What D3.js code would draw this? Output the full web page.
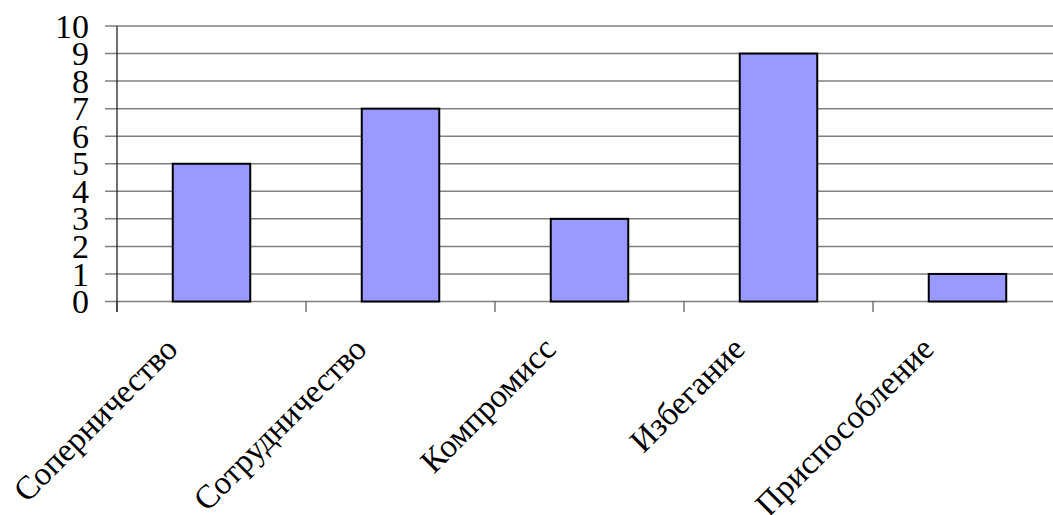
<!DOCTYPE html>
<html>
<head>
<meta charset="utf-8">
<script src="https://cdn.jsdelivr.net/npm/d3@7"></script>
<style>
  html, body { margin: 0; padding: 0; background: #fff; }
  svg { display: block; }
</style>
</head>
<body>
<svg id="chart" width="1053" height="515"></svg>
<script>
// Conflict resolution styles and their counts
const categories = ["Соперничество", "Сотрудничество", "Компромисс", "Избегание", "Приспособление"];
const values = [5, 7, 3, 9, 1];
const yTicks = [0, 1, 2, 3, 4, 5, 6, 7, 8, 9, 10];

const svg = d3.select("#chart");
const plotLeft = 117, plotRight = 1062, plotTop = 26, plotBottom = 301.5;
const serif = '"Liberation Serif", "Times New Roman", serif';

const x = d3.scaleBand().domain(categories).range([plotLeft, plotRight]).paddingInner(0.59).paddingOuter(0.295);
const xBand = d3.scaleBand().domain(categories).range([plotLeft, plotRight]);
const y = d3.scaleLinear().domain([0, 10]).range([plotBottom, plotTop]);

// horizontal grid lines with left tick stubs
svg.append("g").selectAll("line").data(yTicks).join("line")
  .attr("x1", 105).attr("x2", 1053)
  .attr("y1", d => y(d)).attr("y2", d => y(d))
  .attr("stroke", "#808080").attr("stroke-width", 1.5);

// y tick labels
svg.append("g").selectAll("text").data(yTicks).join("text")
  .attr("x", 89).attr("y", d => y(d))
  .attr("dy", "0.34em")
  .attr("text-anchor", "end")
  .style("font-family", serif)
  .style("font-size", "34px")
  .attr("fill", "#000")
  .text(d => d);

// category tick marks below the baseline
const bounds = categories.map(c => xBand(c)).concat([plotRight]);
svg.append("g").selectAll("line").data(bounds).join("line")
  .attr("x1", d => d).attr("x2", d => d)
  .attr("y1", plotBottom).attr("y2", 312)
  .attr("stroke", "#555").attr("stroke-width", 1.2);

// vertical axis line
svg.append("line")
  .attr("x1", plotLeft).attr("x2", plotLeft)
  .attr("y1", plotTop).attr("y2", 312)
  .attr("stroke", "#222").attr("stroke-width", 1.3);

// bars
svg.append("g").selectAll("rect").data(values).join("rect")
  .attr("x", (d, i) => x(categories[i]))
  .attr("width", x.bandwidth())
  .attr("y", d => y(d))
  .attr("height", d => y(0) - y(d))
  .attr("fill", "#9999ff")
  .attr("stroke", "#000").attr("stroke-width", 2);

// rotated category labels
svg.append("g").selectAll("text").data(categories).join("text")
  .attr("transform", c => `translate(${xBand(c) + xBand.bandwidth() / 2 - 32},${351}) rotate(-45)`)
  .attr("text-anchor", "end")
  .style("font-family", serif)
  .style("font-size", "33px")
  .attr("fill", "#000")
  .text(c => c);
</script>
</body>
</html>
